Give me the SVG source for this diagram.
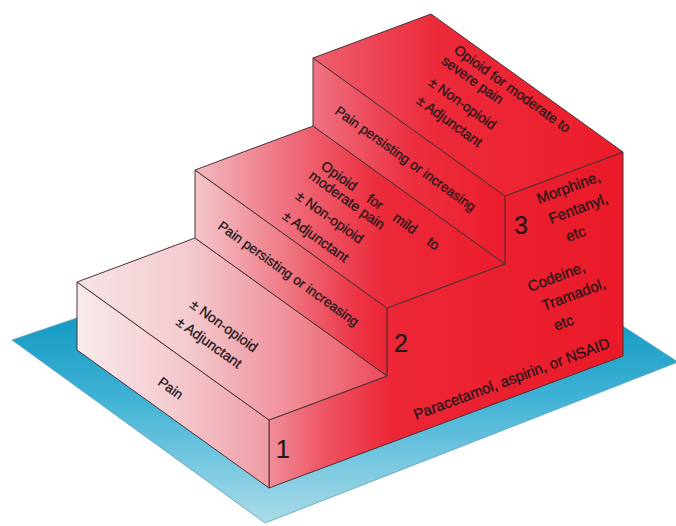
<svg xmlns="http://www.w3.org/2000/svg" width="676" height="526" viewBox="0 0 676 526">
  <defs>
    <linearGradient id="gGround" gradientUnits="userSpaceOnUse" x1="0" y1="330" x2="0" y2="525">
      <stop offset="0" stop-color="#1a9ec6"/>
      <stop offset="0.35" stop-color="#40b2d5"/>
      <stop offset="1" stop-color="#acdcea"/>
    </linearGradient>
    <linearGradient id="gRiser1" x1="0" y1="0" x2="1" y2="0">
      <stop offset="0" stop-color="#f8eaec"/>
      <stop offset="0.5" stop-color="#f4cbd0"/>
      <stop offset="1" stop-color="#ef9ca6"/>
    </linearGradient>
    <linearGradient id="gTread1" x1="0" y1="0" x2="1" y2="0">
      <stop offset="0" stop-color="#f7e4e6"/>
      <stop offset="0.35" stop-color="#f3cbd0"/>
      <stop offset="0.65" stop-color="#f0959f"/>
      <stop offset="1" stop-color="#ec4a5a"/>
    </linearGradient>
    <linearGradient id="gRiser2" x1="0" y1="0" x2="1" y2="0">
      <stop offset="0" stop-color="#f3c6cb"/>
      <stop offset="0.45" stop-color="#ef7c88"/>
      <stop offset="0.85" stop-color="#ec3343"/>
      <stop offset="1" stop-color="#ec2636"/>
    </linearGradient>
    <linearGradient id="gTread2" x1="0" y1="0" x2="1" y2="0">
      <stop offset="0" stop-color="#f2bac0"/>
      <stop offset="0.3" stop-color="#ef6f7e"/>
      <stop offset="0.6" stop-color="#ec2b3b"/>
      <stop offset="1" stop-color="#ec1c2b"/>
    </linearGradient>
    <linearGradient id="gRiser3" x1="0" y1="0" x2="1" y2="0">
      <stop offset="0" stop-color="#ef7383"/>
      <stop offset="0.5" stop-color="#ec3040"/>
      <stop offset="1" stop-color="#ec1d2c"/>
    </linearGradient>
    <linearGradient id="gTread3" x1="0" y1="0" x2="1" y2="0">
      <stop offset="0" stop-color="#ee6070"/>
      <stop offset="0.4" stop-color="#ec2a3a"/>
      <stop offset="1" stop-color="#ec1c2a"/>
    </linearGradient>
    <linearGradient id="gSide" x1="0" y1="0" x2="1" y2="0">
      <stop offset="0" stop-color="#f08e98"/>
      <stop offset="0.15" stop-color="#ee5666"/>
      <stop offset="0.35" stop-color="#ec2636"/>
      <stop offset="1" stop-color="#ea1a28"/>
    </linearGradient>
  </defs>
  <style>
    .face { stroke: #4b3234; stroke-width: 1; stroke-linejoin: round; }
    .ground { fill: url(#gGround); stroke: #5e9fb4; stroke-width: 0.8; }
    .t { font-family: "Liberation Sans", Arial, sans-serif; fill: #24171a; stroke: #24171a; stroke-width: 0.3; }
    .tread { font-size: 14px; }
    .riser { font-size: 13.5px; }
    .side { font-size: 15px; }
    .num { font-size: 25px; stroke-width: 0.2; }
  </style>

  <rect width="676" height="526" fill="#ffffff"/>

  <!-- ground plate under the staircase -->
  <g id="ground">
    <polygon class="ground" points="12,340 427,199 678,362 265,523"/>
  </g>

  <!-- stair profile seen from the right -->
  <g id="side-face">
    <polygon class="face" fill="url(#gSide)" points="269,420 387,376 387,308 505,264 505,196 623,152 623,356 269,488"/>
  </g>

  <!-- step 1 -->
  <g id="step-1">
    <polygon class="face" fill="url(#gRiser1)" points="77,282 269,420 269,488 77,350"/>
    <polygon class="face" fill="url(#gTread1)" points="77,282 195,238 387,376 269,420"/>
    <text class="t riser" transform="translate(157 384) rotate(35.7)">Pain</text>
    <text class="t tread" transform="translate(189 306.5) rotate(35.7)">± Non-opioid</text>
    <text class="t tread" transform="translate(175 324) rotate(35.7)">± Adjunctant</text>
    <text class="t num" x="276" y="458">1</text>
  </g>

  <!-- step 2 -->
  <g id="step-2">
    <polygon class="face" fill="url(#gRiser2)" points="195,170 387,308 387,376 195,238"/>
    <polygon class="face" fill="url(#gTread2)" points="195,170 313,126 505,264 387,308"/>
    <text class="t riser" transform="translate(217 228) rotate(35.7)">Pain persisting or increasing</text>
    <g transform="translate(320 168) rotate(35.7)">
      <text class="t tread" y="0"><tspan x="0">Opioid</tspan><tspan x="56.4">for</tspan><tspan x="88.7">mild</tspan><tspan x="130.3">to</tspan></text>
      <text class="t tread" x="-4" y="15">moderate pain</text>
      <text class="t tread" x="-3" y="39">± Non-opioid</text>
      <text class="t tread" x="-2" y="63">± Adjunctant</text>
    </g>
    <text class="t num" x="394" y="352">2</text>
  </g>

  <!-- step 3 -->
  <g id="step-3">
    <polygon class="face" fill="url(#gRiser3)" points="313,58 505,196 505,264 313,126"/>
    <polygon class="face" fill="url(#gTread3)" points="313,58 431,14 623,152 505,196"/>
    <text class="t riser" transform="translate(334 113) rotate(35.7)">Pain persisting or increasing</text>
    <g transform="translate(453 52) rotate(35.7)">
      <text class="t tread" x="0" y="0">Opioid for moderate to</text>
      <text class="t tread" x="-4" y="16">severe pain</text>
      <text class="t tread" x="-2" y="41">± Non-opioid</text>
      <text class="t tread" x="-1" y="63">± Adjunctant</text>
    </g>
    <text class="t num" x="514" y="234">3</text>
  </g>

  <!-- drug examples written on the side face -->
  <g id="drug-labels">
    <text class="t side" transform="translate(539 204) rotate(-20.45)">Morphine,</text>
    <text class="t side" transform="translate(551 224) rotate(-20.45)">Fentanyl,</text>
    <text class="t side" transform="translate(568 242) rotate(-20.45)">etc</text>
    <text class="t side" transform="translate(530 292) rotate(-20.45)">Codeine,</text>
    <text class="t side" transform="translate(544 311) rotate(-20.45)">Tramadol,</text>
    <text class="t side" transform="translate(556 331) rotate(-20.45)">etc</text>
    <text class="t side" transform="translate(416 420) rotate(-20.45)" textLength="208" lengthAdjust="spacing">Paracetamol, aspirin, or NSAID</text>
  </g>
</svg>
